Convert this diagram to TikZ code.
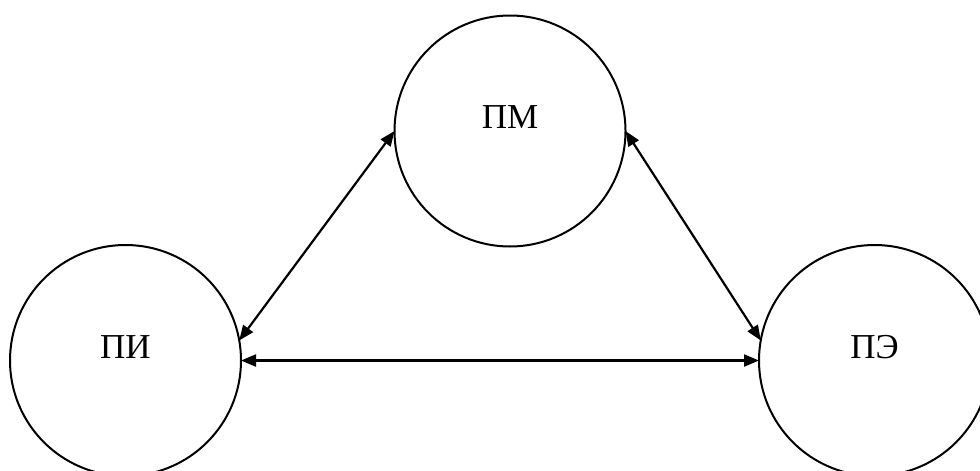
\documentclass[tikz,border=0pt]{standalone}
\usepackage{fontspec}
\setmainfont{Liberation Serif}
\usetikzlibrary{arrows.meta}
\begin{document}
\begin{tikzpicture}[x=1pt,y=1pt,
  ring/.style={draw,circle,line width=2pt,minimum size=231pt,inner sep=0pt,outer sep=0pt},
  lbl/.style={font=\fontsize{35}{40}\selectfont,inner sep=0pt},
  link/.style={line width=2.2pt,{Triangle[length=15pt,width=12pt]}-{Triangle[length=15pt,width=12pt]}}]
\useasboundingbox (0,0) rectangle (980,-471);
\clip (0,0) rectangle (980,-471);
\node[ring] (pm) at (510,-131) {};
\node[ring] (pi) at (125.5,-360.5) {};
\node[ring] (pe) at (874.5,-360.5) {};
\node[lbl] (tpm) at (510,-117) {ПМ};
\node[lbl] (tpi) at (125.5,-347) {ПИ};
\node[lbl] (tpe) at (874.5,-347) {ПЭ};
\draw[link] (pm.west) -- (pi.10);
\draw[link] (pm.east) -- (pe.170);
\draw[link] (pi.east) -- (pe.west);
\end{tikzpicture}
\end{document}
